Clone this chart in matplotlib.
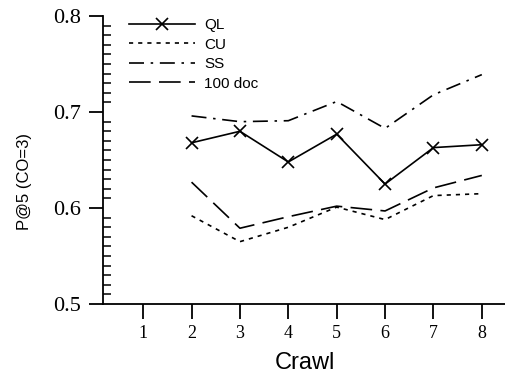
import numpy as np
import matplotlib
matplotlib.use("Agg")
import matplotlib.pyplot as plt
from matplotlib.ticker import MultipleLocator

# Valores
crawl = [2, 3, 4, 5, 6, 7, 8]
ql = [0.668, 0.680, 0.648, 0.677, 0.625, 0.663, 0.666]
cu = [0.592, 0.565, 0.580, 0.601, 0.588, 0.613, 0.615]
ss = [0.696, 0.690, 0.691, 0.711, 0.683, 0.718, 0.739]
doc100 = [0.627, 0.579, 0.591, 0.602, 0.597, 0.621, 0.634]
xticks = [1, 2, 3, 4, 5, 6, 7, 8]

fig = plt.figure(figsize=(5.06, 3.74), dpi=100)
ax = fig.add_axes([0.2036, 0.187, 0.7964, 0.770])

ax.plot(crawl, ql, color='black', lw=1.2, marker='x', markersize=9, mew=1.2, label="QL")
ax.plot(crawl, cu, color='black', lw=1.2, linestyle=(0, (2.5, 3)), label="CU")
ax.plot(crawl, ss, color='black', lw=1.2, linestyle=(0, (9, 4, 1.5, 4)), label="SS")
ax.plot(crawl, doc100, color='black', lw=1.2, linestyle=(0, (13, 5)), label="100 doc")

ax.set_xlim(0.17, 8.5)
ax.set_ylim(0.5, 0.8)
ax.set_xticks(xticks)
ax.set_yticks([0.5, 0.6, 0.7, 0.8])
ax.yaxis.set_minor_locator(MultipleLocator(0.01))

ax.spines['top'].set_visible(False)
ax.spines['right'].set_visible(False)
ax.spines['left'].set_linewidth(1.3)
ax.spines['bottom'].set_linewidth(1.3)

ax.tick_params(axis='x', direction='out', length=11, width=1.3, labelsize=13, pad=4)
ax.tick_params(axis='y', which='major', direction='out', length=10, width=1.3, labelsize=16, pad=6)
ax.tick_params(axis='y', which='minor', direction='in', length=6, width=1.1)
for lab in ax.get_xticklabels() + ax.get_yticklabels():
    lab.set_fontfamily('Liberation Serif')

ax.set_xlabel("Crawl", fontsize=17, family='Liberation Sans', labelpad=7.5)
ax.set_ylabel("P@5 (CO=3)", fontsize=12, family='Liberation Sans')
ax.yaxis.set_label_coords(-0.176, 0.427)

ax.legend(loc='upper left', bbox_to_anchor=(0.03, 1.04), frameon=False,
          prop={'family': 'Liberation Sans', 'size': 11}, handlelength=4.3,
          handletextpad=0.65, labelspacing=0.36)

fig.savefig("out.png", dpi=100)
